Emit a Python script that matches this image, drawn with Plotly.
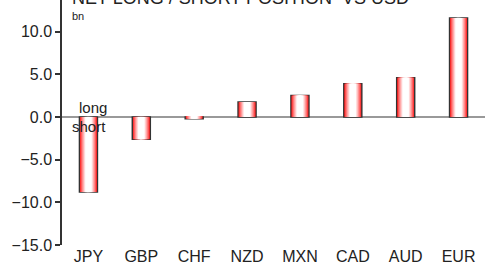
import plotly.graph_objects as go

categories = ["JPY", "GBP", "CHF", "NZD", "MXN", "CAD", "AUD", "EUR"]
positions = [-8.8, -2.6, -0.2, 1.75, 2.5, 3.9, 4.6, 11.6]
y_ticks = [-15, -10, -5, 0, 5, 10]

fig = go.Figure()

N = 14
base_w = 0.34
for i in range(N):
    f = i / N
    t = min(1.0, f / 0.65) ** 0.8
    r = 255
    g = int(round(255 * t))
    b = int(round(255 * t))
    w = base_w * (1 - f)
    fig.add_trace(go.Bar(
        x=categories, y=positions, width=w,
        marker=dict(color=f"rgb({r},{g},{b})",
                    line=dict(color="#333" if i == 0 else f"rgb({r},{g},{b})",
                              width=1.5 if i == 0 else 0)),
        showlegend=False, hoverinfo="skip",
    ))

fig.update_layout(
    width=487, height=275,
    margin=dict(l=62, r=2, t=0, b=30),
    barmode="overlay",
    plot_bgcolor="white", paper_bgcolor="white",
    font=dict(family="Liberation Sans, Arial", size=16, color="#222"),
    xaxis=dict(showline=False, ticks="", showgrid=False, tickfont=dict(size=16),
               range=[-0.5, 7.5]),
    yaxis=dict(range=[-15, 13.7], tickvals=y_ticks, tickformat=".1f",
               showline=True, linecolor="#333", linewidth=1.5,
               ticks="outside", ticklen=5, tickcolor="#333", tickwidth=1.5,
               showgrid=False, zeroline=True, zerolinecolor="#999", zerolinewidth=1.5,
               tickfont=dict(size=16)),
    annotations=[
        dict(text="NET LONG / SHORT POSITION  VS USD", xref="paper", yref="paper",
             x=0.02, y=1, xanchor="left", yanchor="bottom", yshift=-10,
             showarrow=False, font=dict(size=18, color="#222")),
        dict(text="bn", xref="paper", yref="paper", x=0.02, y=1, xanchor="left",
             yanchor="top", yshift=-8, showarrow=False, font=dict(size=11, color="#222")),
        dict(text="long", xref="paper", yref="y", x=0.035, y=0, xanchor="left",
             yanchor="bottom", yshift=-1, showarrow=False, font=dict(size=15, color="#222")),
        dict(text="short", xref="paper", yref="y", x=0.02, y=0, xanchor="left",
             yanchor="top", yshift=1, showarrow=False, font=dict(size=15, color="#222")),
    ],
)

fig.write_html("out.html")
